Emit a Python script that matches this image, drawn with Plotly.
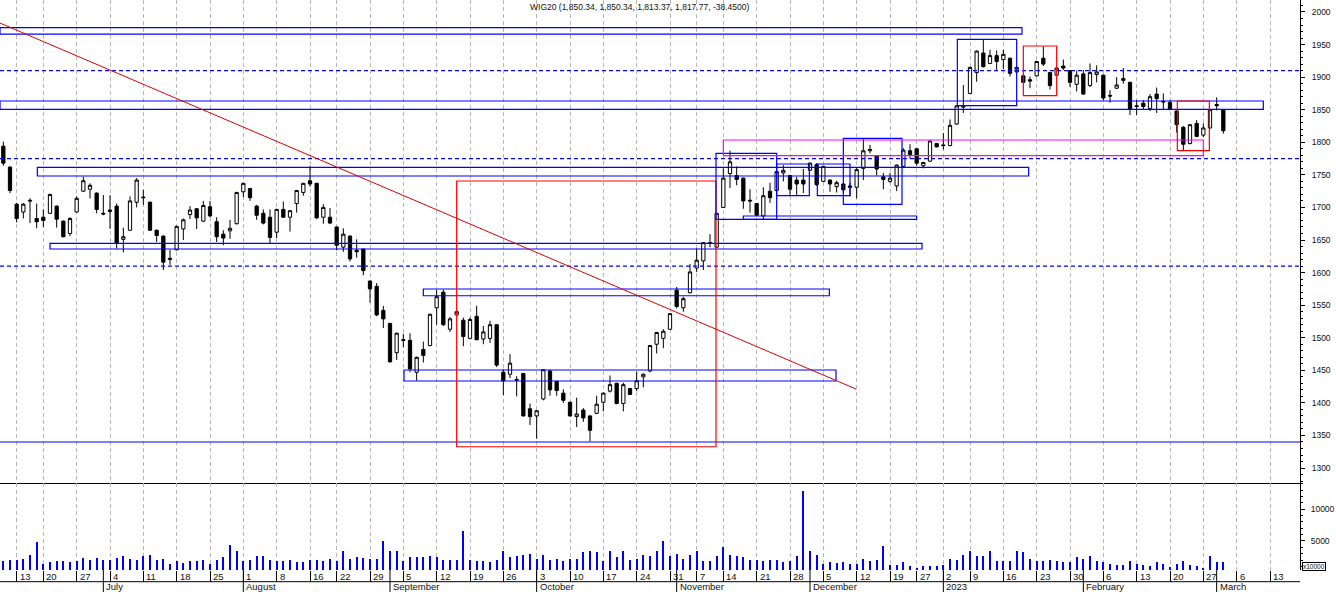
import pandas as pd
import plotly.graph_objects as go

# sessions not present in the feed (exchange holidays + one gap in the Dec 19 week)
closed_days = ["2022-06-16", "2022-08-15", "2022-11-01", "2022-11-11",
               "2022-12-23", "2022-12-26", "2023-01-06"]
calendar = [d for d in pd.bdate_range("2022-06-09", "2023-03-17")
            if d.strftime("%Y-%m-%d") not in closed_days]

opens = [
    1794, 1762, 1705, 1693, 1711, 1683, 1685, 1691, 1702, 1679,
    1660, 1693, 1725, 1728, 1722, 1691, 1696, 1702, 1651, 1665,
    1708, 1716, 1708, 1665, 1656, 1620, 1635, 1667, 1689, 1698,
    1679, 1701, 1678, 1659, 1664, 1675, 1724, 1729, 1702, 1691,
    1685, 1662, 1697, 1685, 1706, 1723, 1741, 1737, 1685, 1685,
    1670, 1639, 1656, 1634, 1636, 1587, 1579, 1542, 1522, 1477,
    1497, 1496, 1447, 1482, 1488, 1546, 1570, 1513, 1535, 1527,
    1499, 1533, 1498, 1499, 1520, 1447, 1444, 1436, 1445, 1391,
    1380, 1406, 1449, 1433, 1415, 1401, 1379, 1389, 1380, 1384,
    1401, 1418, 1430, 1399, 1422, 1422, 1440, 1449, 1490, 1499,
    1513, 1573, 1546, 1569, 1607, 1618, 1646, 1639, 1700, 1752,
    1749, 1745, 1711, 1706, 1687, 1725, 1726, 1753, 1749, 1742,
    1742, 1757, 1766, 1740, 1742, 1732, 1736, 1733, 1731, 1760,
    1787, 1779, 1747, 1740, 1733, 1763, 1787, 1790, 1764, 1771,
    1798, 1796, 1795, 1828, 1854, 1875, 1907, 1937, 1921, 1933,
    1927, 1929, 1908, 1902, 1896, 1902, 1929, 1907, 1903, 1917,
    1910, 1889, 1905, 1887, 1904, 1903, 1872, 1883, 1895, 1892,
    1856, 1860, 1852, 1874, 1863, 1861, 1848, 1823, 1798, 1829,
    1811, 1822, 1858, 1850.34,
]
highs = [
    1801, 1763, 1707, 1707, 1714, 1706, 1697, 1721, 1703, 1680,
    1685, 1717, 1747, 1737, 1723, 1719, 1719, 1706, 1669, 1717,
    1745, 1727, 1709, 1666, 1657, 1635, 1672, 1683, 1702, 1699,
    1710, 1710, 1685, 1665, 1681, 1724, 1738, 1730, 1704, 1697,
    1697, 1698, 1709, 1696, 1727, 1738, 1764, 1738, 1705, 1699,
    1671, 1668, 1657, 1651, 1637, 1588, 1584, 1549, 1523, 1508,
    1506, 1507, 1471, 1494, 1537, 1573, 1574, 1532, 1542, 1531,
    1531, 1549, 1518, 1526, 1521, 1452, 1475, 1441, 1446, 1399,
    1389, 1452, 1451, 1434, 1421, 1402, 1408, 1392, 1381, 1411,
    1416, 1442, 1431, 1431, 1423, 1448, 1445, 1489, 1509, 1513,
    1538, 1578, 1563, 1613, 1637, 1647, 1659, 1692, 1760, 1787,
    1763, 1746, 1728, 1707, 1731, 1738, 1756, 1765, 1750, 1747,
    1759, 1769, 1768, 1764, 1743, 1741, 1737, 1738, 1762, 1805,
    1796, 1780, 1753, 1753, 1766, 1791, 1797, 1791, 1770, 1803,
    1799, 1814, 1835, 1857, 1888, 1916, 1941, 1957, 1942, 1941,
    1942, 1930, 1916, 1903, 1901, 1925, 1947, 1908, 1915, 1927,
    1911, 1910, 1911, 1921, 1918, 1904, 1880, 1900, 1914, 1893,
    1865, 1865, 1874, 1884, 1875, 1865, 1849, 1825, 1828, 1834,
    1829, 1851, 1869, 1850.34,
]
lows = [
    1764, 1722, 1677, 1683, 1676, 1668, 1670, 1690, 1669, 1654,
    1656, 1692, 1724, 1714, 1691, 1688, 1667, 1637, 1631, 1664,
    1700, 1704, 1664, 1647, 1604, 1612, 1634, 1650, 1682, 1667,
    1678, 1685, 1647, 1642, 1652, 1674, 1716, 1710, 1681, 1674,
    1645, 1653, 1684, 1663, 1692, 1718, 1732, 1682, 1675, 1675,
    1634, 1632, 1617, 1623, 1596, 1554, 1533, 1515, 1462, 1466,
    1485, 1447, 1434, 1462, 1487, 1520, 1518, 1509, 1533, 1487,
    1498, 1496, 1490, 1492, 1455, 1412, 1438, 1410, 1379, 1366,
    1345, 1404, 1411, 1411, 1400, 1379, 1363, 1371, 1341, 1383,
    1387, 1416, 1398, 1387, 1412, 1418, 1424, 1447, 1476, 1484,
    1512, 1545, 1540, 1568, 1601, 1604, 1639, 1638, 1699, 1730,
    1734, 1698, 1692, 1687, 1682, 1707, 1724, 1740, 1719, 1719,
    1722, 1756, 1733, 1739, 1724, 1723, 1722, 1717, 1714, 1742,
    1783, 1749, 1728, 1738, 1725, 1762, 1775, 1764, 1760, 1770,
    1792, 1789, 1794, 1827, 1845, 1874, 1893, 1915, 1920, 1911,
    1912, 1901, 1907, 1891, 1883, 1901, 1917, 1881, 1902, 1911,
    1885, 1878, 1873, 1885, 1892, 1865, 1861, 1882, 1890, 1842,
    1842, 1851, 1848, 1845, 1850, 1849, 1815, 1788, 1797, 1808,
    1808, 1821, 1849, 1813.37,
]
closes = [
    1768, 1726, 1683, 1705, 1710, 1678, 1680, 1720, 1682, 1655,
    1683, 1714, 1741, 1734, 1697, 1690, 1694, 1645, 1655, 1710,
    1742, 1715, 1665, 1657, 1616, 1622, 1671, 1681, 1696, 1684,
    1703, 1687, 1655, 1653, 1668, 1723, 1737, 1715, 1688, 1676,
    1654, 1697, 1685, 1695, 1726, 1737, 1736, 1684, 1700, 1676,
    1642, 1659, 1621, 1632, 1603, 1575, 1535, 1529, 1463, 1507,
    1496, 1452, 1470, 1473, 1536, 1563, 1520, 1529, 1540, 1502,
    1528, 1497, 1509, 1520, 1458, 1434, 1461, 1435, 1380, 1379,
    1388, 1451, 1420, 1419, 1404, 1380, 1383, 1377, 1358, 1398,
    1415, 1428, 1399, 1428, 1413, 1434, 1444, 1488, 1508, 1510,
    1537, 1548, 1560, 1601, 1619, 1646, 1645, 1691, 1745, 1770,
    1743, 1710, 1710, 1688, 1718, 1715, 1755, 1757, 1728, 1736,
    1736, 1768, 1735, 1763, 1736, 1738, 1727, 1731, 1758, 1787,
    1789, 1759, 1743, 1745, 1765, 1788, 1781, 1768, 1769, 1802,
    1793, 1795, 1826, 1856, 1856, 1915, 1940, 1916, 1933, 1924,
    1935, 1906, 1915, 1892, 1894, 1924, 1920, 1887, 1914, 1914,
    1892, 1903, 1874, 1907, 1908, 1868, 1871, 1888, 1898, 1851,
    1855, 1855, 1870, 1867, 1862, 1851, 1827, 1797, 1827, 1809,
    1822, 1850, 1856.22, 1817.77,
]
volume = [  # x10000
    1740, 1900, 2000, 2160, 2790, 4740, 1370, 1580, 1840, 1740,
    1580, 1740, 2270, 2000, 2270, 1900, 2000, 2270, 2630, 2160,
    2000, 2630, 2790, 2000, 2160, 1370, 1740, 1480, 1840, 1740,
    1900, 1370, 1900, 2370, 4370, 3420, 1740, 2000, 2630, 2630,
    2000, 1740, 1740, 1900, 1580, 1580, 1900, 1900, 1740, 2160,
    1740, 3420, 2160, 2420, 2270, 2160, 2160, 4890, 3300, 3420,
    1740, 2370, 2370, 2370, 2530, 2370, 2000, 2000, 2000, 6580,
    2000, 1740, 1840, 1580, 2000, 3320, 2370, 2630, 2790, 2950,
    2160, 2790, 1900, 2160, 1840, 2160, 2160, 3160, 3420, 3160,
    1740, 3320, 2370, 3420, 1900, 2160, 2790, 2630, 3320, 4890,
    2530, 2950, 2160, 2790, 3320, 1840, 1840, 2630, 3950, 2790,
    2630, 2420, 2000, 2000, 1740, 1900, 1900, 1580, 1840, 2630,
    12890, 3420, 2790, 1370, 1580, 1480, 1580, 1370, 1370, 2160,
    1740, 1900, 4210, 1210, 1210, 1580, 950, 690, 950, 950,
    950, 1100, 2160, 1900, 2790, 3320, 2530, 2630, 3320, 1740,
    1840, 1840, 3420, 3160, 2160, 1840, 1740, 2000, 1740, 1580,
    1580, 2370, 2160, 2630, 1840, 1580, 1370, 1210, 1210, 1840,
    1370, 1210, 1050, 1630, 1370, 840, 1370, 1840, 1210, 1050,
    690, 2630, 1580, 1580,
]
volume_ticks = [5000, 10000]

# drawn studies, in session-position / price units
dashed_levels = [1910, 1775, 1610]
solid_levels = [1340]
boxes = [  # x0, x1, low, high, colour
    (-0.5, 152.8, 1966, 1976, "#0000FF"),
    (-0.5, 189.0, 1850.6, 1863.4, "#0000FF"),
    (5.1, 153.8, 1748.3, 1761.6, "#0000FF"),
    (7.0, 137.8, 1636.2, 1645.0, "#0000FF"),
    (63.0, 123.9, 1564.5, 1574.8, "#0000FF"),
    (60.1, 124.9, 1433.6, 1450.5, "#0000FF"),
    (68.0, 106.9, 1332.7, 1740.6, "#FF0000"),
    (106.9, 116.0, 1681.8, 1783.1, "#0000FF"),
    (111.0, 137.0, 1681.8, 1686.9, "#0000FF"),
    (116.0, 120.9, 1718.0, 1766.7, "#0000FF"),
    (122.1, 127.0, 1718.0, 1766.7, "#0000FF"),
    (126.0, 134.8, 1704.8, 1806.0, "#0000FF"),
    (108.0, 180.0, 1779.4, 1803.5, "#FF00FF"),
    (143.1, 152.0, 1856.2, 1958.1, "#0000FF"),
    (153.0, 158.0, 1871.5, 1947.8, "#FF0000"),
    (176.1, 180.9, 1787.1, 1863.4, "#FF0000"),
]
trend_line = (-0.5, 1983.0, 127.9, 1421.3)

n = len(opens)
xs = list(range(n))
FONT = "Arial, 'Liberation Sans', sans-serif"
PX_H = 570.0  # plot area height in px

week_pos = [p for p in range(1, len(calendar))
            if calendar[p].isocalendar()[1] != calendar[p - 1].isocalendar()[1]]
month_pos = [p for p in range(1, len(calendar))
             if calendar[p].month != calendar[p - 1].month]

fig = go.Figure()
fig.add_trace(go.Candlestick(
    x=xs, open=opens, high=highs, low=lows, close=closes,
    increasing=dict(fillcolor="white", line=dict(color="black", width=1)),
    decreasing=dict(fillcolor="black", line=dict(color="black", width=1)),
    whiskerwidth=0, showlegend=False, hoverinfo="skip",
    xaxis="x", yaxis="y",
))
fig.add_trace(go.Bar(
    x=xs, y=volume, width=0.18, marker=dict(color="#0000FF", line_width=0),
    showlegend=False, hoverinfo="skip", xaxis="x2", yaxis="y2",
))

shapes = []
for lv in dashed_levels:
    shapes.append(dict(type="line", xref="x domain", yref="y", x0=0, x1=1, y0=lv, y1=lv,
                       line=dict(color="#0000FF", width=1.2, dash="4px,3px")))
for lv in solid_levels:
    shapes.append(dict(type="line", xref="x domain", yref="y", x0=0, x1=1, y0=lv, y1=lv,
                       line=dict(color="#0000FF", width=1.2)))
for x0, x1, lo, hi, col in boxes:
    shapes.append(dict(type="rect", xref="x", yref="y", x0=x0, x1=x1, y0=lo, y1=hi,
                       line=dict(color=col, width=1.2), fillcolor="rgba(0,0,0,0)"))
shapes.append(dict(type="line", xref="x", yref="y",
                   x0=trend_line[0], y0=trend_line[1], x1=trend_line[2], y1=trend_line[3],
                   line=dict(color="#E00000", width=1)))
# separator between week row and month row, and month ticks
shapes.append(dict(type="line", xref="paper", yref="paper", x0=0, x1=1,
                   y0=-11.7 / PX_H, y1=-11.7 / PX_H, line=dict(color="black", width=1)))
for p in month_pos:
    shapes.append(dict(type="line", xref="x2", yref="paper", x0=p, x1=p,
                       y0=0, y1=-22 / PX_H, line=dict(color="black", width=1)))

annotations = []
for p in week_pos:
    annotations.append(dict(x=p, y=-6 / PX_H, xref="x2", yref="paper",
                            text=str(calendar[p].day), showarrow=False,
                            xanchor="left", yanchor="middle", xshift=1,
                            font=dict(size=9.5, color="#111")))
for p in month_pos:
    d = calendar[p]
    label = str(d.year) if d.month == 1 else d.strftime("%B")
    annotations.append(dict(x=p, y=-16.8 / PX_H, xref="x2", yref="paper",
                            text=label, showarrow=False,
                            xanchor="left", yanchor="middle", xshift=1,
                            font=dict(size=9.5, color="#111")))
prev_close = closes[-2]
title = "WIG20 ({:,.2f}, {:,.2f}, {:,.2f}, {:,.2f}, {:.4f})".format(
    opens[-1], highs[-1], lows[-1], closes[-1], closes[-1] - prev_close)
annotations.append(dict(x=639 / 1300, y=(PX_H - 7) / PX_H, xref="paper", yref="paper",
                        text=title, showarrow=False, xanchor="center", yanchor="middle",
                        font=dict(size=8.5, color="#111")))
annotations.append(dict(x=1.0015, y=3.5 / PX_H, xref="paper", yref="paper",
                        text="x10000", showarrow=False, xanchor="left", yanchor="middle",
                        bordercolor="black", borderwidth=1, borderpad=0,
                        font=dict(size=6.5, color="#111")))

grid = dict(tickvals=week_pos, showgrid=True, gridcolor="#B8B8B8", griddash="4px,3px",
            gridwidth=1, showticklabels=False, zeroline=False, range=[-0.5, 194.5])
split = (PX_H - 483.3) / PX_H

fig.update_layout(
    width=1336, height=592,
    margin=dict(l=0, r=36, t=0, b=22),
    paper_bgcolor="white", plot_bgcolor="white",
    font=dict(family=FONT, size=9.5, color="#111"),
    showlegend=False,
    xaxis=dict(**grid, domain=[0, 1], anchor="y", ticks="", showline=True,
               linecolor="black", linewidth=1, rangeslider=dict(visible=False)),
    xaxis2=dict(**grid, domain=[0, 1], anchor="y2", matches="x", ticks="outside",
                ticklen=11, tickcolor="black", tickwidth=1, showline=False),
    yaxis=dict(domain=[split, 1], anchor="x", side="right", range=[1276.6, 2018.4],
               dtick=50, tick0=0, ticks="outside", ticklen=4, tickcolor="black",
               minor=dict(dtick=10, ticks="outside", ticklen=2, tickcolor="black"),
               showgrid=False, zeroline=False, showline=True, linecolor="black",
               ticklabelstandoff=5, tickfont=dict(size=8.5, color="#111")),
    yaxis2=dict(domain=[0, split], anchor="x2", side="right", range=[425, 14100],
                tickvals=volume_ticks, ticktext=[str(v) for v in volume_ticks],
                ticks="outside", ticklen=4, tickcolor="black",
                minor=dict(dtick=1000, ticks="outside", ticklen=2, tickcolor="black"),
                showgrid=False, zeroline=False, showline=True, linecolor="black",
                ticklabelstandoff=4, tickfont=dict(size=8.5, color="#111")),
    shapes=shapes,
    annotations=annotations,
    bargap=0,
)

# the page's default body margin would push the 1336x592 figure out of the window
fig.write_html("out.html", config={"displayModeBar": False},
               post_script="document.body.style.margin='0px';")
